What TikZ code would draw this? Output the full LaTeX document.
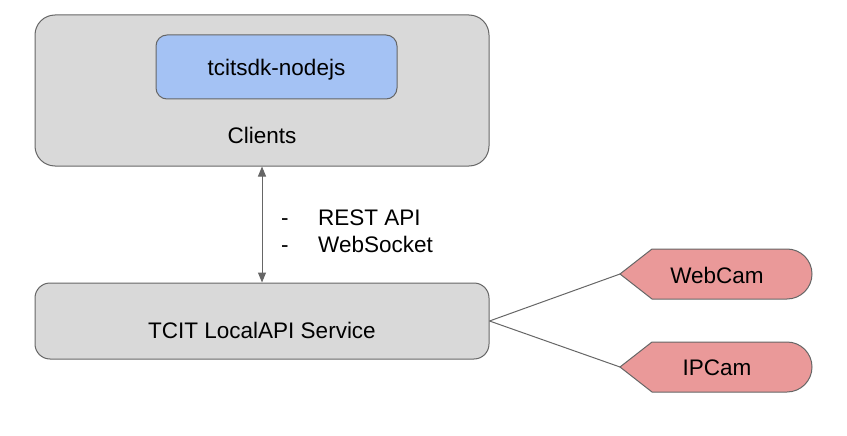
\documentclass[tikz,border=0pt]{standalone}
\usepackage{fontspec}
\setmainfont{Liberation Sans}
\usepackage{xcolor}
\usetikzlibrary{positioning,calc,arrows.meta}
\definecolor{boxgray}{HTML}{D9D9D9}
\definecolor{edgegray}{HTML}{666666}
\definecolor{sdkblue}{HTML}{A4C2F4}
\definecolor{camred}{HTML}{EA9999}

\begin{document}
\begin{tikzpicture}[x=1pt, y=-1pt, font=\fontsize{22.5}{27}\selectfont,
    box/.style={draw=edgegray, fill=boxgray, line width=1pt},
    txt/.style={anchor=base, inner sep=0pt},
    link/.style={draw=edgegray, line width=1pt},
    cam/.style={draw=edgegray, fill=camred, line width=1pt}]
    \useasboundingbox (0,0) rectangle (847,436);

    % Clients
    \node[box, rounded corners=20pt, minimum width=454pt, minimum height=151pt] (clients) at (262,90.5) {};
    \node[box, fill=sdkblue, rounded corners=11pt, minimum width=241pt, minimum height=64pt] (sdk) at (276.5,67) {};
    \node[txt] (sdklabel) at (sdk.center |- 0,76) {tcitsdk-nodejs};
    \node[txt] (clientslabel) at (262,143) {Clients};

    % LocalAPI service
    \node[box, rounded corners=15pt, minimum width=454pt, minimum height=76pt] (api) at (262,321) {};
    \node[txt] (apilabel) at (262,338) {TCIT LocalAPI Service};

    \draw[link, {Triangle[length=10pt,width=8pt]}-{Triangle[length=10pt,width=8pt]}, fill=edgegray] (clients.south) -- (api.north);
    \node[txt, anchor=base west] (dashrest) at (281,225) {-};
    \node[txt, anchor=base west] (rest) at (318,225) {REST API};
    \node[txt, anchor=base west] (dashws) at (281,252) {-};
    \node[txt, anchor=base west] (ws) at (318,252) {WebSocket};

    % Cameras
    \draw[cam] (620,274) -- (652,249) -- (787,249) arc[start angle=-90, end angle=90, radius=25] -- (652,299) -- cycle;
    \coordinate (webcam) at (620,274);
    \node[txt] (webcamlabel) at (717,283) {WebCam};
    \draw[cam] (620,367) -- (652,342) -- (787,342) arc[start angle=-90, end angle=90, radius=25] -- (652,392) -- cycle;
    \coordinate (ipcam) at (620,367);
    \node[txt] (ipcamlabel) at (717,375) {IPCam};

    \draw[link] (api.east) -- (webcam);
    \draw[link] (api.east) -- (ipcam);
\end{tikzpicture}
\end{document}
